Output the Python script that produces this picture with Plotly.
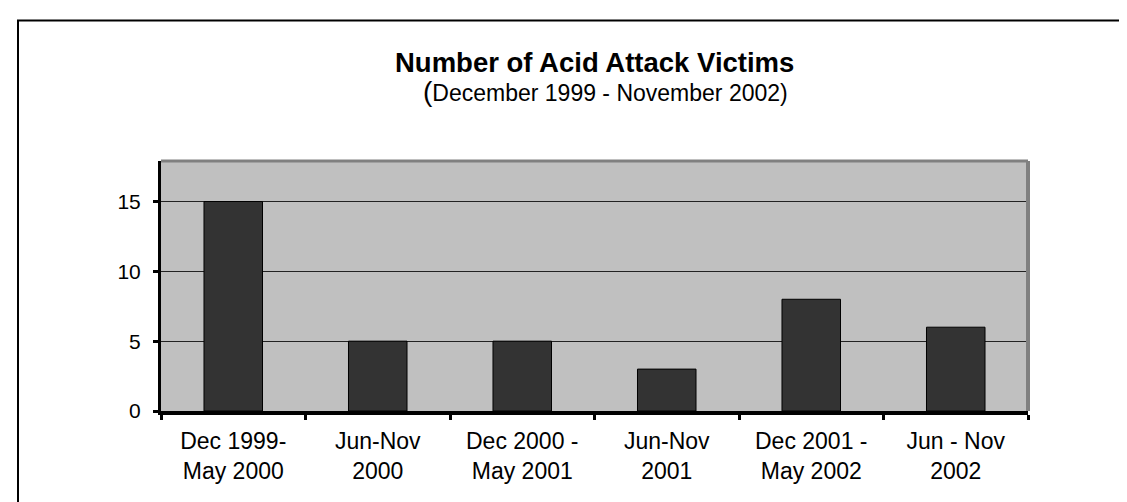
import plotly.graph_objects as go

categories = ["Dec 1999-<br>May 2000", "Jun-Nov<br>2000", "Dec 2000 -<br>May 2001",
              "Jun-Nov<br>2001", "Dec 2001 -<br>May 2002", "Jun - Nov<br>2002"]
victims = [15, 5, 5, 3, 8, 6]
y_ticks = [0, 5, 10, 15]

W, H = 1127, 502
L, R, T, B = 153, 1020, 153, 403

fig = go.Figure(go.Bar(
    x=categories, y=victims, width=0.405,
    marker=dict(color="#333333", line=dict(color="#000000", width=1)),
))

def px_x(p):
    return (p - L) / (R - L)

def px_y(p):
    return (B - p) / (B - T)

fig.update_layout(
    width=W, height=H,
    margin=dict(l=L, r=W - R, t=T, b=H - B, pad=0),
    paper_bgcolor="white", plot_bgcolor="#C0C0C0",
    showlegend=False,
    font=dict(family="Liberation Sans, Arial, sans-serif", size=21, color="black"),
    xaxis=dict(showgrid=False, showline=True, linecolor="black", linewidth=4,
               ticks="outside", tickson="boundaries", ticklen=5, tickwidth=3,
               tickcolor="black", ticklabelstandoff=6, zeroline=False,
               tickfont=dict(size=23)),
    yaxis=dict(range=[0, 17.9], tickvals=y_ticks, showgrid=True, gridcolor="#222222",
               gridwidth=1, showline=True, linecolor="black", linewidth=3,
               ticks="outside", ticklen=5, tickwidth=3, tickcolor="black",
               zeroline=False, tickfont=dict(size=21), ticklabelstandoff=8),
    shapes=[
        dict(type="line", xref="paper", yref="paper", x0=0, x1=1, y0=1, y1=1,
             line=dict(color="#808080", width=3)),
        dict(type="line", xref="paper", yref="paper", x0=1, x1=1, y0=0, y1=1,
             line=dict(color="#808080", width=4)),
        dict(type="rect", xref="paper", yref="paper",
             x0=px_x(10), x1=px_x(W + 50), y0=px_y(H + 50), y1=px_y(12.5),
             line=dict(color="black", width=2), fillcolor="rgba(0,0,0,0)", layer="below"),
    ],
    annotations=[
        dict(text="<b>Number of Acid Attack Victims</b>", xref="paper", yref="paper",
             x=0.5, y=px_y(54), showarrow=False, font=dict(size=27.5), yanchor="middle"),
        dict(text="<span style='font-size:28px'>(</span>December 1999 - November 2002)",
             xref="paper", yref="paper", x=px_x(597), y=px_y(83), showarrow=False,
             font=dict(size=23), yanchor="middle"),
    ],
)

fig.write_html("out.html")
